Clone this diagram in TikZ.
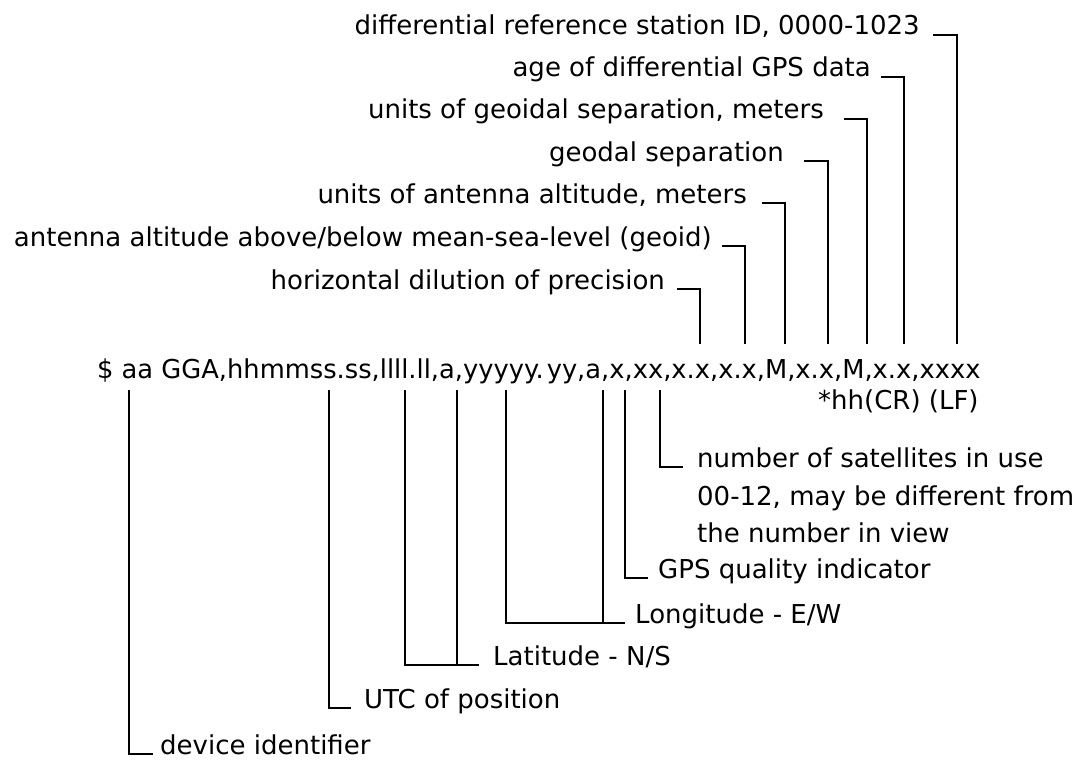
\documentclass[tikz,border=0pt]{standalone}
\usepackage{fontspec}
\setmainfont{DejaVu Sans}
\usepackage{graphicx}
\begin{document}
\begin{tikzpicture}[x=1pt,y=-1pt,
  lbl/.style={inner sep=0pt, font=\fontsize{26}{39}\selectfont},
  lft/.style={lbl, anchor=base east},
  rgt/.style={lbl, anchor=base west},
  wire/.style={line width=1.8pt, line cap=butt, line join=miter},
]
\useasboundingbox (0,0) rectangle (1083,762);

% the sentence itself
\node[rgt] (msg) at (97,378)
  {\resizebox{883pt}{\height}{\$ aa GGA,hhmmss.ss,llll.ll,a,yyyyy.\hspace{3pt}yy,a,x,xx,x.x,x.x,M,x.x,M,x.x,xxxx}};
\node[rgt] (chk) at (818,409) {*hh(CR) (LF)};

% field attachment points above the sentence
\coordinate (f-hdop) at (700,344);
\coordinate (f-alt)  at (745,344);
\coordinate (f-altu) at (785,344);
\coordinate (f-sep)  at (828,344);
\coordinate (f-sepu) at (867,344);
\coordinate (f-age)  at (904,344);
\coordinate (f-stn)  at (957,344);

% field attachment points below the sentence
\coordinate (f-dev)  at (129,390);
\coordinate (f-utc)  at (329,390);
\coordinate (f-lat)  at (405,390);
\coordinate (f-ns)   at (457,390);
\coordinate (f-lon)  at (506,390);
\coordinate (f-ew)   at (603,390);
\coordinate (f-qual) at (625,390);
\coordinate (f-sats) at (660,390);

% labels above
\node[lft] (stn)  at (920,35)  {differential reference station ID, 0000-1023};
\node[lft] (age)  at (871,77)  {age of differential GPS data};
\node[lft] (sepu) at (824,119) {units of geoidal separation, meters};
\node[lft] (sep)  at (784,161) {geodal separation};
\node[lft] (altu) at (747,203) {units of antenna altitude, meters};
\node[lft] (alt)  at (712,246) {antenna altitude above/below mean-sea-level (geoid)};
\node[lft] (hdop) at (665,289) {horizontal dilution of precision};

\draw[wire] ([xshift=13pt]stn.base east)  -| (f-stn);
\draw[wire] ([xshift=10pt]age.base east)  -| (f-age);
\draw[wire] ([xshift=20pt]sepu.base east) -| (f-sepu);
\draw[wire] ([xshift=20pt]sep.base east)  -| (f-sep);
\draw[wire] ([xshift=15pt]altu.base east) -| (f-altu);
\draw[wire] ([xshift=10pt]alt.base east)  -| (f-alt);
\draw[wire] ([xshift=12pt]hdop.base east) -| (f-hdop);

% labels below
\node[rgt] (sats1) at (697,467) {number of satellites in use};
\node[rgt] (sats2) at (697,505) {00-12, may be different from};
\node[rgt] (sats3) at (697,542) {the number in view};
\node[rgt] (qual)  at (658,578) {GPS quality indicator};
\node[rgt] (lon)   at (635,623) {Longitude - E/W};
\node[rgt] (lat)   at (493,665) {Latitude - N/S};
\node[rgt] (utc)   at (364,708) {UTC of position};
\node[rgt] (dev)   at (160,754) {device identifier};

\draw[wire] (f-sats) |- ([xshift=-14pt]sats1.base west);
\draw[wire] (f-qual) |- ([xshift=-10pt]qual.base west);
\draw[wire] (f-lon)  |- ([xshift=-10pt]lon.base west);
\draw[wire] (f-ew)   -- (f-ew |- lon.base);
\draw[wire] (f-lat)  |- ([xshift=-14pt]lat.base west);
\draw[wire] (f-ns)   -- (f-ns |- lat.base);
\draw[wire] (f-utc)  |- ([xshift=-13pt]utc.base west);
\draw[wire] (f-dev)  |- ([xshift=-7pt]dev.base west);
\end{tikzpicture}
\end{document}
